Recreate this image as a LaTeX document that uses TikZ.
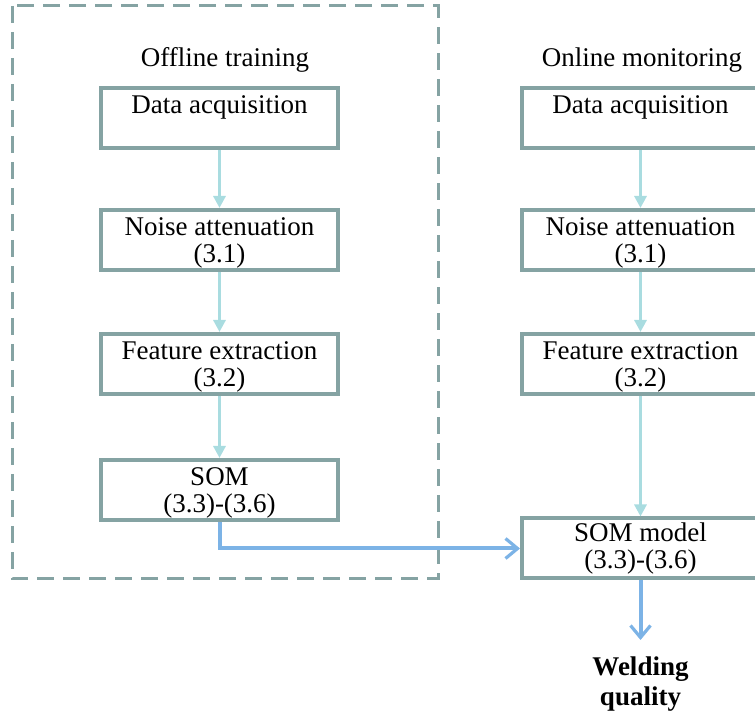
\documentclass[tikz,border=0pt]{standalone}
\usepackage{fontspec}
\setmainfont{Liberation Serif}
\usepackage{tikz}
\usetikzlibrary{arrows.meta,positioning,calc}

\definecolor{boxgray}{HTML}{85A3A3}
\definecolor{flowcyan}{HTML}{A9DCE0}
\definecolor{flowblue}{HTML}{7CB3E6}

\tikzset{
  stepbox/.style={draw=boxgray,line width=2pt,fill=white,minimum width=118.5pt,minimum height=30pt,
    inner sep=0pt,align=center,font=\fontsize{13.5}{13.5}\selectfont,text depth=-6pt},
  headtext/.style={font=\fontsize{13.5}{14}\selectfont},
  flowline/.style={draw=flowcyan,line width=1.5pt,-{Triangle[width=6pt,length=6pt]}},
  resline/.style={draw=flowblue,line width=2pt,-{Straight Barb[width=10pt,length=6pt,line width=1.6pt]}}
}

\begin{document}
\begin{tikzpicture}[x=0.5pt,y=-0.5pt]
  \clip (0,0) rectangle (755,715);
  % offline part
  \draw[boxgray,line width=1.5pt,dash pattern=on 8.5pt off 4.5pt] (12,6) rectangle (438,579);
  \node[headtext] (offtitle) at (225,60) {Offline training};
  \node[stepbox,text depth=-9pt] (offdata) at (219.5,118) {Data acquisition\\~};
  \node[stepbox] (offnoise) at (219.5,240) {Noise attenuation\\(3.1)};
  \node[stepbox] (offfeat) at (219.5,364) {Feature extraction\\(3.2)};
  \node[stepbox] (offsom) at (219.5,490) {SOM\\(3.3)-(3.6)};
  % online part
  \node[headtext] (ontitle) at (642,60) {Online monitoring};
  \node[stepbox,text depth=-9pt] (ondata) at (640.5,118) {Data acquisition\\~};
  \node[stepbox] (onnoise) at (640.5,240) {Noise attenuation\\(3.1)};
  \node[stepbox] (onfeat) at (640.5,364) {Feature extraction\\(3.2)};
  \node[stepbox,text depth=3pt] (onsom) at (640.5,548.5) {SOM model\\(3.3)-(3.6)};
  \coordinate (qualtop) at (640.5,640);
  \node[font=\fontsize{13.5}{15}\selectfont\bfseries,align=center] (quality) at (640.5,684) {Welding\\quality};
  % arrows
  \draw[flowline] (offdata) -- (offnoise);
  \draw[flowline] (offnoise) -- (offfeat);
  \draw[flowline] (offfeat) -- (offsom);
  \draw[flowline] (ondata) -- (onnoise);
  \draw[flowline] (onnoise) -- (onfeat);
  \draw[flowline] (onfeat) -- (onsom);
  \draw[resline] (offsom.south) |- (onsom.west);
  \draw[resline] (onsom.south) -- (qualtop);
\end{tikzpicture}
\end{document}
